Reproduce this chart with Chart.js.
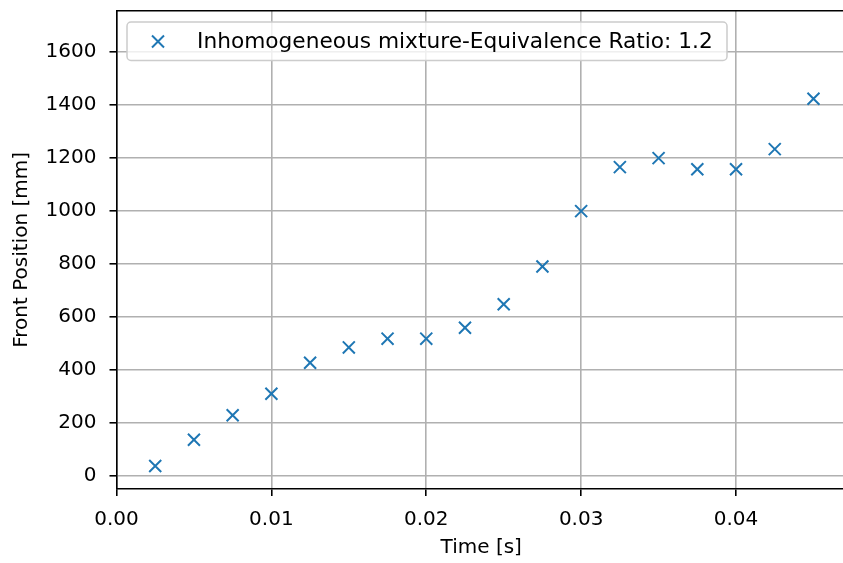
<!DOCTYPE html>
<html lang="en">
<head>
    <meta charset="UTF-8">
    <title>Front Position vs Time</title>
    <script src="https://cdn.jsdelivr.net/npm/chart.js"></script>
    <style>
        html, body {
            margin: 0;
            padding: 0;
            background: #fff;
            overflow: hidden;
        }
        .wrap {
            width: 843px;
            height: 563px;
            overflow: hidden;
        }
        #frontChart {
            display: block;
        }
    </style>
</head>
<body>
    <div class="wrap">
        <canvas id="frontChart" width="850" height="563"></canvas>
    </div>

    <script>
        // data
        const times = [0.0025, 0.005, 0.0075, 0.01, 0.0125, 0.015, 0.0175, 0.02, 0.0225,
                       0.025, 0.0275, 0.03, 0.0325, 0.035, 0.0375, 0.04, 0.0425, 0.045];
        const positions = [39, 138, 230, 311, 428, 486, 519, 519, 560,
                           649, 791, 1000, 1166, 1200, 1158, 1158, 1234, 1424];
        const seriesLabel = "Inhomogeneous mixture-Equivalence Ratio: 1.2";
        const xTicks = [0.00, 0.01, 0.02, 0.03, 0.04];
        const yTicks = [0, 200, 400, 600, 800, 1000, 1200, 1400, 1600];

        const FONT = "'DejaVu Sans', sans-serif";
        const blue = "#1f77b4";

        // top/right spines + legend box drawn inside the plot like matplotlib
        // (the right spine sits just past the cropped edge, as in the original)
        const framePlugin = {
            id: "frame",
            afterDraw(chart) {
                const ctx = chart.ctx;
                const a = chart.chartArea;
                ctx.save();
                ctx.strokeStyle = "#000";
                ctx.lineWidth = 1.6;
                ctx.beginPath();
                ctx.moveTo(a.left, a.top);
                ctx.lineTo(a.right, a.top);
                ctx.lineTo(a.right, a.bottom);
                ctx.stroke();

                // legend
                const bx = 127, by = 22, bw = 600, bh = 38.5;
                ctx.beginPath();
                ctx.roundRect(bx, by, bw, bh, 4);
                ctx.fillStyle = "rgba(255,255,255,0.8)";
                ctx.fill();
                ctx.strokeStyle = "#cccccc";
                ctx.lineWidth = 1.5;
                ctx.stroke();

                const mx = 158, my = 41.5, h = 6;
                ctx.strokeStyle = blue;
                ctx.lineWidth = 2;
                ctx.beginPath();
                ctx.moveTo(mx - h, my - h);
                ctx.lineTo(mx + h, my + h);
                ctx.moveTo(mx + h, my - h);
                ctx.lineTo(mx - h, my + h);
                ctx.stroke();

                ctx.fillStyle = "#000";
                ctx.font = "21.7px " + FONT;
                ctx.textBaseline = "middle";
                ctx.textAlign = "left";
                ctx.fillText(chart.data.datasets[0].label, 197, 42);
                ctx.restore();
            }
        };

        const noPad = axis => {
            axis.paddingTop = 0;
            axis.paddingBottom = 0;
            axis.paddingLeft = 0;
            axis.paddingRight = 0;
        };

        const ctx = document.getElementById("frontChart").getContext("2d");
        new Chart(ctx, {
            type: "scatter",
            data: {
                datasets: [{
                    label: seriesLabel,
                    data: times.map((t, i) => ({ x: t, y: positions[i] })),
                    pointStyle: "crossRot",
                    pointRadius: 8.5,
                    pointHoverRadius: 8.5,
                    borderColor: blue,
                    backgroundColor: blue,
                    pointBorderWidth: 2,
                    showLine: false
                }]
            },
            options: {
                responsive: false,
                animation: false,
                events: [],
                layout: {
                    autoPadding: false,
                    padding: { top: 10.7, left: 0, right: 4, bottom: 0 }
                },
                plugins: {
                    legend: { display: false },
                    tooltip: { enabled: false }
                },
                scales: {
                    x: {
                        type: "linear",
                        min: 0,
                        max: 0.0471,
                        afterBuildTicks: axis => { axis.ticks = xTicks.map(v => ({ value: v })); },
                        afterFit: axis => { axis.height = 74; noPad(axis); },
                        ticks: {
                            callback: v => v.toFixed(2),
                            color: "#000",
                            font: { family: FONT, size: 20 },
                            padding: 12,
                            maxRotation: 0,
                            autoSkip: false
                        },
                        grid: {
                            color: "#b0b0b0",
                            lineWidth: 1.6,
                            tickLength: 7,
                            tickColor: "#000",
                            tickWidth: 1.6
                        },
                        border: { display: true, color: "#000", width: 1.6 },
                        title: {
                            display: true,
                            text: "Time [s]",
                            color: "#000",
                            font: { family: FONT, size: 20 },
                            padding: { top: 0, bottom: 3 }
                        }
                    },
                    y: {
                        min: -48,
                        max: 1756,
                        afterBuildTicks: axis => { axis.ticks = yTicks.map(v => ({ value: v })); },
                        afterFit: axis => { axis.width = 116.5; noPad(axis); },
                        ticks: {
                            callback: v => String(v),
                            color: "#000",
                            font: { family: FONT, size: 20 },
                            padding: 13
                        },
                        grid: {
                            color: "#b0b0b0",
                            lineWidth: 1.6,
                            tickLength: 7,
                            tickColor: "#000",
                            tickWidth: 1.6
                        },
                        border: { display: true, color: "#000", width: 1.6 },
                        title: {
                            display: true,
                            text: "Front Position [mm]",
                            color: "#000",
                            font: { family: FONT, size: 20 },
                            padding: { top: 10, bottom: 0 }
                        }
                    }
                }
            },
            plugins: [framePlugin]
        });
    </script>
</body>
</html>
